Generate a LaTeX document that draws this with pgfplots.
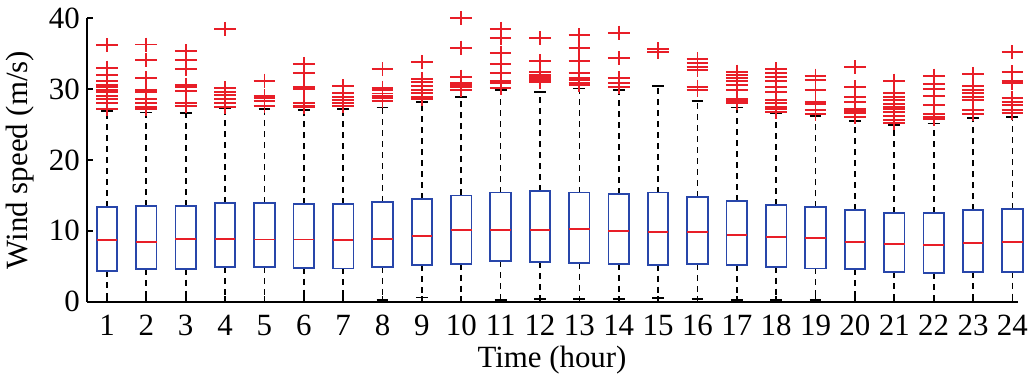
\documentclass[border=0pt]{standalone}
\usepackage{pgfplots}
\pgfplotsset{compat=1.18}
\usepgfplotslibrary{statistics}
\usepackage{fontspec}
\setmainfont{Liberation Serif}
\definecolor{boxblue}{RGB}{40,70,170}
\definecolor{medred}{RGB}{232,30,40}
\newcommand{\bx}[7]{\addplot[boxplot prepared={draw position=#1, median=#2, upper quartile=#3, lower quartile=#4, upper whisker=#5, lower whisker=#6}, draw=boxblue, mark=+, mark size=7bp, mark options={solid, draw=medred, line width=1.8bp, xscale=1.55}] coordinates {#7};}
\begin{document}
\begin{tikzpicture}
\begin{axis}[
  scale only axis,
  width=929.4bp, height=283.4bp,
  xmin=0.5, xmax=24.11, ymin=0, ymax=40,
  axis x line*=bottom, axis y line*=left,
  axis line style={line width=1.7bp, black, -},
  xtick={1,...,24}, ytick={0,10,20,30,40},
  tick align=inside, major tick length=6bp,
  tick style={line width=1.7bp, black},
  /pgf/number format/assume math mode=true,
  tick label style={font=\fontsize{31}{36}\selectfont},
  xticklabel style={anchor=base, yshift=-33.3bp, inner sep=0pt},
  yticklabel style={anchor=east, inner sep=0pt, xshift=-7.3bp},
  every axis x label/.style={at={(axis description cs:0.5,0)}, anchor=base, yshift=-65.3bp, font=\fontsize{31}{36}\selectfont},
  every axis y label/.style={at={(axis description cs:-0.0725,0.5)}, rotate=90, anchor=center, font=\fontsize{31}{36}\selectfont},
  xlabel={Time (hour)},
  ylabel={Wind speed (m/s)},
  clip=false,
  boxplot/draw direction=y,
  boxplot/box extend=0.52,
  boxplot/whisker extend=0.3,
  boxplot/every box/.style={draw=boxblue, line width=1.8bp, solid},
  boxplot/every median/.style={draw=medred, line width=1.8bp, solid},
  boxplot/draw/lower whisker/.code={%
    \draw[black, line width=1.7bp, dash pattern=on 6bp off 5bp]
      (boxplot cs:\pgfplotsboxplotvalue{lower quartile}) -- (boxplot cs:\pgfplotsboxplotvalue{lower whisker});
    \draw[black, line width=1.7bp]
      (boxplot whisker cs:\pgfplotsboxplotvalue{lower whisker},0) -- (boxplot whisker cs:\pgfplotsboxplotvalue{lower whisker},1);
  },
  boxplot/draw/upper whisker/.code={%
    \draw[black, line width=1.7bp, dash pattern=on 6bp off 5bp]
      (boxplot cs:\pgfplotsboxplotvalue{upper quartile}) -- (boxplot cs:\pgfplotsboxplotvalue{upper whisker});
    \draw[black, line width=1.7bp]
      (boxplot whisker cs:\pgfplotsboxplotvalue{upper whisker},0) -- (boxplot whisker cs:\pgfplotsboxplotvalue{upper whisker},1);
  },
]
\bx{1}{8.66}{13.4}{4.33}{26.9}{0}{(0,36.23) (0,33.03) (0,32.0) (0,31.15) (0,30.58) (0,30.25) (0,29.88) (0,29.55) (0,29.08) (0,28.56) (0,28.0) (0,27.2)}
\bx{2}{8.47}{13.55}{4.57}{26.7}{0}{(0,36.3) (0,34.1) (0,31.57) (0,29.88) (0,29.64) (0,28.6) (0,28.0) (0,27.5) (0,27.2)}
\bx{3}{8.85}{13.55}{4.66}{26.6}{0}{(0,35.38) (0,34.1) (0,32.89) (0,30.63) (0,30.25) (0,29.69) (0,28.0) (0,27.67)}
\bx{4}{8.85}{13.9}{4.85}{27.3}{0}{(0,38.49) (0,30.11) (0,29.64) (0,29.17) (0,28.56) (0,28.0) (0,27.53)}
\bx{5}{8.78}{13.9}{4.85}{27.24}{0}{(0,31.2) (0,29.03) (0,28.7) (0,28.37) (0,27.67)}
\bx{6}{8.78}{13.75}{4.8}{27.05}{0}{(0,33.55) (0,32.23) (0,30.35) (0,30.0) (0,28.0) (0,27.67) (0,27.43)}
\bx{7}{8.75}{13.8}{4.7}{27.24}{0}{(0,30.44) (0,29.5) (0,28.94) (0,28.47) (0,28.0) (0,27.62)}
\bx{8}{8.9}{14.1}{4.9}{27.43}{0.2}{(0,32.8) (0,30.2) (0,29.88) (0,29.4) (0,29.03) (0,28.7) (0,28.37)}
\bx{9}{9.23}{14.5}{5.18}{28.18}{0.6}{(0,33.78) (0,31.43) (0,31.05) (0,30.44) (0,29.88) (0,29.41) (0,28.94) (0,28.56)}
\bx{10}{10.07}{15.0}{5.36}{28.94}{0}{(0,40.0) (0,35.85) (0,31.76) (0,30.9) (0,30.58) (0,30.25) (0,29.88)}
\bx{11}{10.07}{15.4}{5.7}{29.88}{0.2}{(0,38.49) (0,37.17) (0,35.15) (0,33.55) (0,32.23) (0,31.2) (0,30.82) (0,30.2)}
\bx{12}{10.1}{15.6}{5.56}{29.64}{0.4}{(0,37.17) (0,33.97) (0,32.47) (0,32.0) (0,31.7) (0,31.52) (0,31.3) (0,31.05)}
\bx{13}{10.26}{15.4}{5.5}{30.11}{0.4}{(0,37.64) (0,35.76) (0,34.02) (0,32.23) (0,31.62) (0,31.29) (0,30.9) (0,30.54)}
\bx{14}{9.93}{15.24}{5.36}{29.88}{0.4}{(0,37.97) (0,34.35) (0,31.52) (0,30.82) (0,30.35)}
\bx{15}{9.8}{15.4}{5.22}{30.44}{0.5}{(0,35.62) (0,35.2)}
\bx{16}{9.8}{14.78}{5.32}{28.37}{0.4}{(0,34.21) (0,33.64) (0,33.17) (0,32.7) (0,30.35) (0,29.88)}
\bx{17}{9.37}{14.26}{5.13}{27.43}{0.2}{(0,32.47) (0,32.0) (0,31.62) (0,31.2) (0,30.58) (0,29.88) (0,28.56) (0,28.33) (0,28.09)}
\bx{18}{9.13}{13.65}{4.94}{26.6}{0.2}{(0,32.8) (0,32.23) (0,31.76) (0,31.2) (0,30.35) (0,29.64) (0,28.47) (0,28.09) (0,27.53) (0,27.15) (0,26.82)}
\bx{19}{9.04}{13.32}{4.7}{26.21}{0.2}{(0,31.9) (0,31.29) (0,29.88) (0,28.14) (0,27.85) (0,27.05) (0,26.44)}
\bx{20}{8.43}{12.99}{4.57}{25.55}{0}{(0,33.08) (0,30.25) (0,28.84) (0,28.23) (0,27.2) (0,26.91) (0,26.58) (0,26.02)}
\bx{21}{8.1}{12.56}{4.15}{24.94}{0}{(0,31.2) (0,29.41) (0,28.94) (0,28.47) (0,27.85) (0,27.53) (0,27.15) (0,26.73) (0,26.21) (0,25.64) (0,25.17)}
\bx{22}{8.0}{12.56}{4.0}{25.17}{0}{(0,31.9) (0,30.73) (0,29.97) (0,29.03) (0,27.76) (0,26.44) (0,26.11) (0,25.74)}
\bx{23}{8.28}{12.9}{4.15}{25.88}{0}{(0,32.14) (0,30.44) (0,29.88) (0,29.41) (0,28.94) (0,28.47) (0,27.05) (0,26.49)}
\bx{24}{8.47}{13.08}{4.24}{26.02}{0}{(0,35.2) (0,32.37) (0,31.2) (0,30.82) (0,28.7) (0,28.23) (0,27.76) (0,27.05) (0,26.58)}
\end{axis}
\pgfresetboundingbox
\path ([xshift=-87.3bp,yshift=-81.3bp]current axis.south west) rectangle ++(1029bp,383bp);
\end{tikzpicture}
\end{document}
